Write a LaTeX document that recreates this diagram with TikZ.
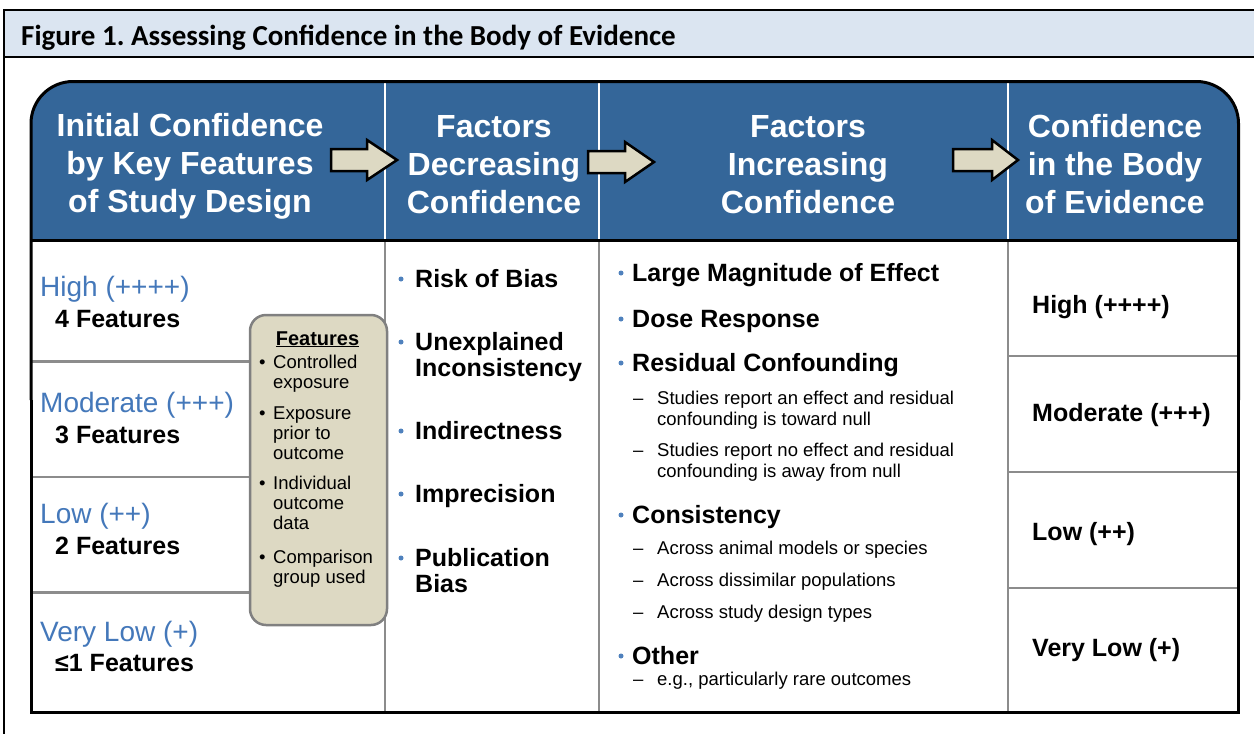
\documentclass[tikz,border=0pt]{standalone}
\usepackage{fontspec}
\setmainfont{Liberation Sans}
\newfontfamily\carlito{Carlito}
\frenchspacing
\definecolor{hdrblue}{HTML}{346699}
\definecolor{titlebg}{HTML}{DBE5F1}
\definecolor{tanfill}{HTML}{DDD9C3}
\definecolor{lblue}{HTML}{4478BA}
\definecolor{bulblue}{HTML}{4F81BD}
\definecolor{divgray}{HTML}{8C8C8C}
\tikzset{
  hdtxt/.style={text=white, font=\fontsize{32}{38}\selectfont\bfseries, align=center, inner sep=0pt},
  lvl/.style={anchor=base west, inner sep=0pt, text=lblue, font=\fontsize{28}{32}\selectfont},
  nfeat/.style={anchor=base west, inner sep=0pt, font=\fontsize{25}{30}\selectfont\bfseries},
  mainitem/.style={anchor=base west, inner sep=0pt, font=\fontsize{25}{30}\selectfont\bfseries},
  subitem/.style={anchor=base west, inner sep=0pt, font=\fontsize{18.5}{21}\selectfont},
  bxtxt/.style={anchor=base west, inner sep=0pt, font=\fontsize{18.5}{20}\selectfont},
  conf/.style={anchor=base west, inner sep=0pt, font=\fontsize{25}{28}\selectfont\bfseries},
  bdot/.style={circle, fill=bulblue, inner sep=0pt, minimum size=5pt},
  rowline/.style={draw=divgray, line width=2.5pt},
  blockarrow/.style={fill=tanfill, draw=black, line width=2.5pt, line join=miter},
}
\newcommand\blkarrow[4]{%
  \path[blockarrow] (#1,#4-11) -- (#2,#4-11) -- (#2,#4-20) -- (#3,#4) -- (#2,#4+20) -- (#2,#4+11) -- (#1,#4+11) -- cycle;}
\begin{document}
\begin{tikzpicture}[x=1pt,y=-1pt]
\useasboundingbox (0,0) rectangle (1254,734);
\clip (0,0) rectangle (1254,734);
% figure frame and title bar
\fill[titlebg] (4,10) rectangle (1270,57);
\draw[line width=2.2pt] (4,760) -- (4,10) -- (1270,10);
\draw[line width=2pt] (4,57) -- (1270,57);
\node[anchor=base west, inner sep=0pt, font=\carlito\bfseries\fontsize{29}{32}\selectfont] (title) at (21,45) {Figure 1. Assessing Confidence in the Body of Evidence};
% table header
\fill[hdrblue, rounded corners=42pt] (31,81.5) rectangle (1238.5,320);
\fill[white] (31,240) rectangle (1238.5,712);
\foreach \xx in {385,599,1008} \draw[white, line width=2pt] (\xx,81.5) -- (\xx,240);
\foreach \xx in {385,599,1008} \draw[divgray, line width=2.5pt] (\xx,240) -- (\xx,712);
% row lines
\foreach \yy in {361.5,477,592.5} \draw[rowline] (31,\yy) -- (385,\yy);
\foreach \yy in {356,472,588} \draw[rowline] (1008,\yy) -- (1238.5,\yy);
\draw[line width=3pt] (31,240) -- (1238.5,240);
\draw[line width=3pt, rounded corners=42pt] (31,400) -- (31,81.5) -- (1238.5,81.5) -- (1238.5,400);
\draw[line width=3pt] (31,400) -- (31,712) -- (1238.5,712) -- (1238.5,400);
% header texts
\node[hdtxt] (h1) at (190,166) {Initial Confidence\\by Key Features\\of Study Design};
\node[hdtxt] (h2) at (494,165) {Factors\\Decreasing\\Confidence};
\node[hdtxt] (h3) at (808,165) {Factors\\Increasing\\Confidence};
\node[hdtxt] (h4) at (1115,164) {Confidence\\in the Body\\of Evidence};
% arrows
\blkarrow{331}{367}{397}{160}
\blkarrow{588}{625}{654}{162}
\blkarrow{953}{992}{1018}{160}
% column 1
\node[lvl] (l1) at (40,296) {High (++++)};
\node[nfeat] (f1) at (55,327) {4 Features};
\node[lvl] (l2) at (40,412) {Moderate (+++)};
\node[nfeat] (f2) at (55,443) {3 Features};
\node[lvl] (l3) at (40,523) {Low (++)};
\node[nfeat] (f3) at (55,554) {2 Features};
\node[lvl] (l4) at (40,641) {Very Low (+)};
\node[nfeat] (f4) at (55,671) {≤1 Features};
% features box
\draw[fill=tanfill, draw=gray, line width=2.5pt, rounded corners=16pt] (250,315) rectangle (387,625);
\node[anchor=base, inner sep=0pt, font=\fontsize{20}{22}\selectfont\bfseries] (fh) at (317.5,345) {\underline{Features}};
\foreach \yy/\nm in {368.5/a,419.5/b,489.5/c,563.5/d} \node[bxtxt] (bb\nm) at (259,\yy) {•};
\node[bxtxt] (x1) at (273,368.5) {Controlled};
\node[bxtxt] (x2) at (273,388.5) {exposure};
\node[bxtxt] (x3) at (273,419.5) {Exposure};
\node[bxtxt] (x4) at (273,439.5) {prior to};
\node[bxtxt] (x5) at (273,459.5) {outcome};
\node[bxtxt] (x6) at (273,489.5) {Individual};
\node[bxtxt] (x7) at (273,509.5) {outcome};
\node[bxtxt] (x8) at (273,529.5) {data};
\node[bxtxt] (x9) at (273,563.5) {Comparison};
\node[bxtxt] (x10) at (273,583.5) {group used};
% column 2
\node[bdot] (d1) at (401,279) {};
\node[mainitem] (c1) at (415,287) {Risk of Bias};
\node[bdot] (d2) at (401,342) {};
\node[mainitem] (c2) at (415,350) {Unexplained};
\node[mainitem] (c2b) at (415,376) {Inconsistency};
\node[bdot] (d3) at (401,431) {};
\node[mainitem] (c3) at (415,439) {Indirectness};
\node[bdot] (d4) at (401,494) {};
\node[mainitem] (c4) at (415,502) {Imprecision};
\node[bdot] (d5) at (401,558) {};
\node[mainitem] (c5) at (415,566) {Publication};
\node[mainitem] (c5b) at (415,592) {Bias};
% column 3
\node[bdot] (e1) at (621,273) {};
\node[mainitem] (g1) at (632,281) {Large Magnitude of Effect};
\node[bdot] (e2) at (621,319) {};
\node[mainitem] (g2) at (632,327) {Dose Response};
\node[bdot] (e3) at (621,363) {};
\node[mainitem] (g3) at (632,371) {Residual Confounding};
\node[subitem] (s1d) at (633,404.5) {–};
\node[subitem] (s1) at (657,404.5) {Studies report an effect and residual};
\node[subitem] (s1b) at (657,425.5) {confounding is toward null};
\node[subitem] (s2d) at (633,456.5) {–};
\node[subitem] (s2) at (657,456.5) {Studies report no effect and residual};
\node[subitem] (s2b) at (657,477.5) {confounding is away from null};
\node[bdot] (e4) at (621,515) {};
\node[mainitem] (g4) at (632,523) {Consistency};
\node[subitem] (s3d) at (633,554.5) {–};
\node[subitem] (s3) at (657,554.5) {Across animal models or species};
\node[subitem] (s4d) at (633,586.5) {–};
\node[subitem] (s4) at (657,586.5) {Across dissimilar populations};
\node[subitem] (s5d) at (633,618.5) {–};
\node[subitem] (s5) at (657,618.5) {Across study design types};
\node[bdot] (e5) at (621,656) {};
\node[mainitem] (g5) at (632,664) {Other};
\node[subitem] (s6d) at (633,685.5) {–};
\node[subitem] (s6) at (657,685.5) {e.g., particularly rare outcomes};
% column 4
\node[conf] (k1) at (1032,313) {High (++++)};
\node[conf] (k2) at (1032,421) {Moderate (+++)};
\node[conf] (k3) at (1032,540) {Low (++)};
\node[conf] (k4) at (1032,656) {Very Low (+)};
\end{tikzpicture}
\end{document}
